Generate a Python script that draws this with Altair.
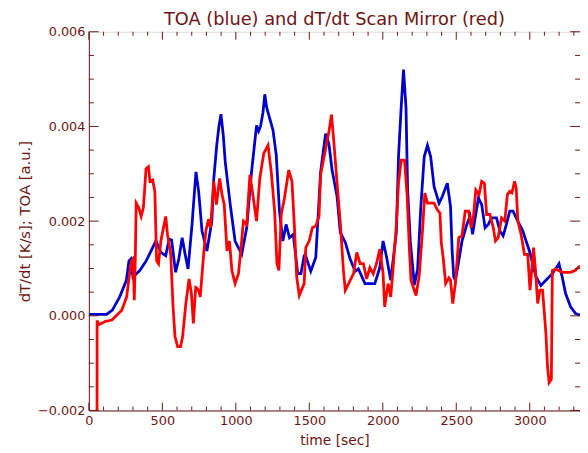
import altair as alt
import pandas as pd

# ---------------- data ----------------
toa_t = [0, 50, 121, 160, 210, 255, 273, 285, 300, 345, 390, 434, 456, 490, 523, 546, 563, 590, 612, 635,
         655, 675, 702, 718, 729, 747, 770, 803, 837, 850, 870, 885, 899, 915, 928, 962, 995, 1040, 1074, 1107,
         1141, 1155, 1168, 1185, 1197, 1210, 1219, 1253, 1275, 1297, 1320, 1342, 1365, 1391, 1421, 1443, 1465,
         1472, 1510, 1544, 1577, 1611, 1633, 1655, 1689, 1711, 1745, 1778, 1812, 1834, 1879, 1946, 1980, 2002,
         2024, 2054, 2092, 2107, 2125, 2141, 2158, 2169, 2188, 2215, 2237, 2259, 2282, 2304, 2326, 2349, 2383,
         2405, 2439, 2461, 2472, 2483, 2494, 2517, 2539, 2572, 2594, 2611, 2629, 2651, 2673, 2696, 2718, 2740,
         2774, 2797, 2819, 2841, 2864, 2886, 2908, 2930, 2953, 2975, 2998, 3020, 3043, 3076, 3110, 3154, 3199,
         3221, 3244, 3278, 3311, 3342]
toa_v = [0.00003, 0.00003, 0.00003, 0.00012, 0.0004, 0.00075, 0.00116, 0.0012, 0.00082, 0.00095, 0.00116,
         0.00144, 0.00158, 0.00134, 0.00127, 0.00162, 0.0016, 0.00092, 0.0012, 0.00165, 0.0013, 0.00099,
         0.00193, 0.0026, 0.00304, 0.00263, 0.00179, 0.00137, 0.002, 0.0029, 0.0036, 0.004, 0.00426, 0.0038,
         0.00325, 0.00235, 0.00158, 0.0013, 0.00186, 0.00304, 0.00402, 0.0039, 0.004, 0.0043, 0.00468, 0.0044,
         0.0043, 0.00392, 0.0034, 0.00221, 0.00158, 0.00193, 0.00165, 0.00172, 0.00089, 0.00089, 0.00127,
         0.0013, 0.00094, 0.00123, 0.00304, 0.00385, 0.00364, 0.00308, 0.00252, 0.00176, 0.00155, 0.0012,
         0.00094, 0.00099, 0.00068, 0.00068, 0.00102, 0.00158, 0.00127, 0.00075, 0.00175, 0.00336, 0.0044,
         0.0052, 0.0044, 0.00266, 0.00155, 0.00065, 0.00099, 0.00231, 0.00336, 0.0036, 0.00336, 0.00273,
         0.00238, 0.00252, 0.0028, 0.00231, 0.00137, 0.00082, 0.00075, 0.00116, 0.00158, 0.00193, 0.0021,
         0.00172, 0.00207, 0.00249, 0.00235, 0.00186, 0.00193, 0.00207, 0.00207, 0.00179, 0.00169, 0.00193,
         0.00221, 0.00221, 0.00207, 0.00193, 0.00179, 0.00158, 0.00137, 0.0011, 0.00082, 0.00064, 0.00075,
         0.00089, 0.0011, 0.00082, 0.00047, 0.00019, 0.00005, 0.00001]

dtdt_t = [55, 56, 67, 110, 157, 224, 257, 280, 291, 300, 305, 309, 316, 322, 340, 356, 371, 389, 405, 416,
          434, 449, 461, 474, 490, 512, 523, 535, 557, 573, 586, 604, 624, 638, 660, 682, 698, 711, 727, 738,
          750, 758, 781, 796, 814, 828, 850, 868, 890, 906, 921, 940, 957, 973, 995, 1018, 1029, 1052, 1074,
          1096, 1119, 1141, 1163, 1190, 1219, 1241, 1264, 1280, 1293, 1309, 1331, 1360, 1382, 1398, 1414, 1432,
          1465, 1476, 1499, 1521, 1544, 1566, 1577, 1611, 1633, 1651, 1666, 1689, 1711, 1733, 1745, 1778, 1801,
          1823, 1846, 1868, 1890, 1912, 1935, 1957, 1980, 2002, 2013, 2036, 2054, 2069, 2092, 2107, 2125, 2148,
          2166, 2181, 2192, 2226, 2248, 2271, 2286, 2304, 2322, 2349, 2371, 2389, 2398, 2412, 2428, 2450, 2461,
          2476, 2494, 2517, 2539, 2561, 2584, 2601, 2617, 2633, 2655, 2673, 2691, 2707, 2729, 2752, 2767, 2785,
          2808, 2830, 2848, 2864, 2879, 2897, 2908, 2919, 2941, 2964, 2986, 3002, 3015, 3026, 3038, 3054, 3069,
          3087, 3098, 3110, 3121, 3132, 3147, 3154, 3176, 3221, 3278, 3311, 3342]
dtdt_v = [-0.0045, -0.0001, -0.00019, -0.00012, -0.00009, 0.00012, 0.0004, 0.00096, 0.00116, 0.0012, 0.0008,
          0.00033, 0.0012, 0.00238, 0.00228, 0.0021, 0.00228, 0.00311, 0.00315, 0.00284, 0.00287, 0.00263,
          0.00116, 0.0011, 0.00158, 0.00193, 0.0021, 0.00172, 0.0013, 0.00019, -0.00044, -0.00065, -0.00065,
          -0.00044, 0.00026, 0.00078, 0.00047, -0.00016, 0.0006, 0.00058, 0.0005, 0.0004, 0.0013, 0.00179,
          0.00204, 0.00186, 0.00284, 0.00235, 0.0029, 0.00256, 0.00235, 0.00137, 0.00158, 0.00096, 0.00068,
          0.00089, 0.00123, 0.002, 0.00193, 0.00298, 0.00249, 0.002, 0.0029, 0.00343, 0.0036, 0.00304, 0.00221,
          0.0011, 0.00096, 0.00214, 0.00249, 0.00308, 0.00284, 0.00193, 0.00082, 0.00043, 0.00068, 0.00144,
          0.00158, 0.00186, 0.0019, 0.0021, 0.00298, 0.00353, 0.00388, 0.00425, 0.00371, 0.0028, 0.00196,
          0.00092, 0.00054, 0.00075, 0.00089, 0.00134, 0.0011, 0.0011, 0.00078, 0.00102, 0.00089, 0.0011,
          0.00141, 0.00089, 0.00019, 0.00068, 0.0004, 0.00096, 0.0019, 0.0028, 0.00329, 0.00329, 0.00252,
          0.00141, 0.00075, 0.00043, 0.00085, 0.00183, 0.00259, 0.00238, 0.00238, 0.00238, 0.00224, 0.00217,
          0.00155, 0.0012, 0.00068, 0.0008, 0.00075, 0.00026, 0.00068, 0.00165, 0.00169, 0.00221, 0.00221,
          0.00186, 0.0021, 0.00266, 0.00256, 0.00284, 0.0028, 0.00214, 0.00214, 0.00186, 0.00158, 0.00165,
          0.00207, 0.002, 0.00256, 0.00263, 0.0026, 0.00284, 0.0027, 0.002, 0.00172, 0.0013, 0.0013, 0.00054,
          0.00102, 0.00144, 0.00102, 0.00026, 0.00054, 0.00054, 0.00012, -0.00037, -0.00107, -0.00141,
          -0.00134, 0.00096, 0.00099, 0.00092, 0.00092, 0.00096, 0.00106]

x_major = [0, 500, 1000, 1500, 2000, 2500, 3000]
x_minor = [t for t in range(100, 3400, 100) if t % 500 != 0]
y_major = [-0.002, 0.0, 0.002, 0.004, 0.006]
y_minor = [-0.0015, -0.001, -0.0005, 0.0005, 0.001, 0.0015, 0.0025, 0.003, 0.0035,
           0.0045, 0.005, 0.0055]

TITLE = "TOA (blue) and dT/dt Scan Mirror (red)"
X_TITLE = "time [sec]"
Y_TITLE = "dT/dt [K/s]; TOA [a.u.]"

# ---------------- styling ----------------
W, H = 498, 384
XMAX = 3342
AX = "#6E1414"
BLUE = "#0000CC"
RED = "#FF0000"
FONT = "DejaVu Sans"

xs = alt.Scale(domain=[0, XMAX], nice=False, zero=False)
ys = alt.Scale(domain=[-0.002, 0.006], nice=False, zero=False)

x_axis = alt.Axis(values=x_major, format="d", ticks=False, tickSize=0, grid=False, domainColor=AX,
                  domainWidth=1, labelFont=FONT, labelFontSize=13, labelColor=AX, labelPadding=4,
                  labelFlush=False, labelOverlap=False, title=X_TITLE, titleFont=FONT, titleFontSize=14,
                  titleFontWeight="normal", titleColor=AX, titleX=W / 2, titleY=34,
                  titleBaseline="alphabetic", titleAlign="center")
y_axis = alt.Axis(values=y_major, format=".3f", ticks=False, tickSize=0, grid=False, domainColor=AX,
                  domainWidth=1, labelFont=FONT, labelFontSize=13, labelColor=AX, labelPadding=4,
                  labelFlush=False, labelOverlap=False, title=Y_TITLE, titleFont=FONT, titleFontSize=15,
                  titleFontWeight="normal", titleColor=AX, titleX=-60, titleY=H / 2, titleAngle=270,
                  titleBaseline="alphabetic", titleAlign="center")


def X(field):
    return alt.X(field, scale=xs, axis=x_axis)


def Y(field):
    return alt.Y(field, scale=ys, axis=y_axis)


toa_df = pd.DataFrame({"t": toa_t, "v": toa_v})
dtdt_df = pd.DataFrame({"t": dtdt_t, "v": dtdt_v})

blue = alt.Chart(toa_df).mark_line(color=BLUE, strokeWidth=2.8, clip=True).encode(
    x=X("t:Q"), y=Y("v:Q"))
red = alt.Chart(dtdt_df).mark_line(color=RED, strokeWidth=2.8, clip=True).encode(
    x=X("t:Q"), y=Y("v:Q"))


def xticks(vals, length):
    df = pd.DataFrame({"t": vals})
    bottom = alt.Chart(df).mark_rule(color=AX, strokeWidth=1).encode(
        x=X("t:Q"), y=alt.value(H), y2=alt.value(H - length))
    top = alt.Chart(df).mark_rule(color=AX, strokeWidth=1).encode(
        x=X("t:Q"), y=alt.value(0), y2=alt.value(length))
    return [bottom, top]


def yticks(vals, length):
    df = pd.DataFrame({"v": vals})
    left = alt.Chart(df).mark_rule(color=AX, strokeWidth=1).encode(
        y=Y("v:Q"), x=alt.value(0), x2=alt.value(length))
    right = alt.Chart(df).mark_rule(color=AX, strokeWidth=1).encode(
        y=Y("v:Q"), x=alt.value(W), x2=alt.value(W - length))
    return [left, right]


title = alt.Chart(pd.DataFrame({"label": [TITLE]})).mark_text(
    font=FONT, fontSize=18, color=AX, align="center", baseline="alphabetic").encode(
    text="label:N", x=alt.value(W / 2), y=alt.value(-7))

layers = ([blue, red] + xticks(x_major, 8) + xticks(x_minor, 4) + yticks(y_major, 10)
          + yticks(y_minor, 5) + [title])

chart = alt.layer(*layers).properties(
    width=W, height=H,
    autosize=alt.AutoSizeParams(type="none"),
    padding={"left": 82, "top": 21, "right": 0, "bottom": 40},
).configure_view(stroke=AX, strokeWidth=1).configure(background="white")

chart.save("out.html", embed_options={"renderer": "svg", "actions": False})
